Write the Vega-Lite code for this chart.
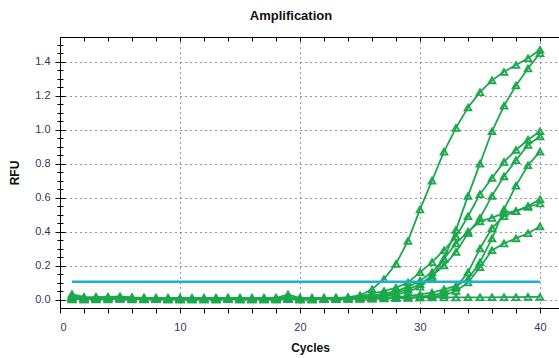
{
  "$schema": "https://vega.github.io/schema/vega-lite/v6.json",
  "width": 500,
  "height": 271,
  "autosize": {"type": "none"},
  "padding": {"left": 60, "top": 37, "right": 0, "bottom": 50},
  "background": "white",
  "config": {
    "view": {"stroke": "black", "strokeWidth": 1},
    "font": "Liberation Sans",
    "axis": {"labelFont": "Liberation Sans", "titleFont": "Liberation Sans"}
  },
  "title": {"text": "Amplification", "fontSize": 13, "fontWeight": "bold", "font": "Liberation Sans", "color": "#111111", "anchor": "middle", "frame": "group", "dx": -19, "offset": 14},
  "datasets": {
    "curves": [
      {"c":1,"A":0.03,"B":0.02,"C":0.01,"D":0.005,"E":0.03,"F":0.01,"G":0.0,"H":0.015,"I":0.005},
      {"c":2,"A":0.01,"B":0.005,"C":0.0,"D":0.01,"E":0.015,"F":0.005,"G":0.01,"H":0.0,"I":0.005},
      {"c":3,"A":0.012,"B":0.008,"C":0.005,"D":0.0,"E":0.01,"F":0.015,"G":0.005,"H":0.005,"I":0.008},
      {"c":4,"A":0.015,"B":0.01,"C":0.008,"D":0.005,"E":0.012,"F":0.01,"G":0.0,"H":0.01,"I":0.008},
      {"c":5,"A":0.018,"B":0.012,"C":0.01,"D":0.005,"E":0.015,"F":0.008,"G":0.005,"H":0.005,"I":0.01},
      {"c":6,"A":0.012,"B":0.006,"C":0.005,"D":0.0,"E":0.01,"F":0.01,"G":0.005,"H":0.008,"I":0.008},
      {"c":7,"A":0.01,"B":0.005,"C":0.005,"D":0.002,"E":0.008,"F":0.005,"G":0.0,"H":0.005,"I":0.01},
      {"c":8,"A":0.008,"B":0.005,"C":0.004,"D":0.002,"E":0.005,"F":0.005,"G":0.002,"H":0.004,"I":0.01},
      {"c":9,"A":0.006,"B":0.004,"C":0.004,"D":0.0,"E":0.006,"F":0.003,"G":0.001,"H":0.005,"I":0.01},
      {"c":10,"A":0.006,"B":0.004,"C":0.003,"D":0.0,"E":0.005,"F":0.004,"G":0.0,"H":0.003,"I":0.009},
      {"c":11,"A":0.005,"B":0.004,"C":0.003,"D":0.0,"E":0.005,"F":0.003,"G":0.0,"H":0.004,"I":0.009},
      {"c":12,"A":0.006,"B":0.005,"C":0.003,"D":0.001,"E":0.006,"F":0.004,"G":0.001,"H":0.004,"I":0.01},
      {"c":13,"A":0.007,"B":0.005,"C":0.004,"D":0.001,"E":0.006,"F":0.005,"G":0.001,"H":0.005,"I":0.01},
      {"c":14,"A":0.009,"B":0.006,"C":0.004,"D":0.002,"E":0.007,"F":0.005,"G":0.002,"H":0.005,"I":0.01},
      {"c":15,"A":0.008,"B":0.005,"C":0.004,"D":0.001,"E":0.006,"F":0.004,"G":0.001,"H":0.004,"I":0.01},
      {"c":16,"A":0.007,"B":0.005,"C":0.003,"D":0.001,"E":0.006,"F":0.004,"G":0.001,"H":0.004,"I":0.01},
      {"c":17,"A":0.006,"B":0.004,"C":0.003,"D":0.0,"E":0.005,"F":0.003,"G":0.0,"H":0.003,"I":0.01},
      {"c":18,"A":0.008,"B":0.005,"C":0.004,"D":0.001,"E":0.006,"F":0.005,"G":0.001,"H":0.004,"I":0.01},
      {"c":19,"A":0.03,"B":0.006,"C":0.004,"D":0.002,"E":0.007,"F":0.005,"G":0.002,"H":0.005,"I":0.01},
      {"c":20,"A":0.008,"B":0.005,"C":0.004,"D":0.001,"E":0.005,"F":0.004,"G":0.001,"H":0.004,"I":0.01},
      {"c":21,"A":0.006,"B":0.004,"C":0.004,"D":0.001,"E":0.005,"F":0.004,"G":0.001,"H":0.004,"I":0.01},
      {"c":22,"A":0.007,"B":0.005,"C":0.006,"D":0.002,"E":0.006,"F":0.005,"G":0.002,"H":0.004,"I":0.01},
      {"c":23,"A":0.009,"B":0.006,"C":0.008,"D":0.003,"E":0.006,"F":0.007,"G":0.002,"H":0.005,"I":0.01},
      {"c":24,"A":0.013,"B":0.007,"C":0.012,"D":0.005,"E":0.007,"F":0.01,"G":0.003,"H":0.005,"I":0.01},
      {"c":25,"A":0.025,"B":0.01,"C":0.02,"D":0.01,"E":0.008,"F":0.015,"G":0.004,"H":0.006,"I":0.011},
      {"c":26,"A":0.06,"B":0.015,"C":0.035,"D":0.015,"E":0.009,"F":0.022,"G":0.005,"H":0.006,"I":0.011},
      {"c":27,"A":0.12,"B":0.02,"C":0.05,"D":0.025,"E":0.01,"F":0.035,"G":0.006,"H":0.007,"I":0.011},
      {"c":28,"A":0.21,"B":0.03,"C":0.07,"D":0.04,"E":0.015,"F":0.05,"G":0.008,"H":0.008,"I":0.011},
      {"c":29,"A":0.345,"B":0.045,"C":0.1,"D":0.06,"E":0.02,"F":0.075,"G":0.01,"H":0.01,"I":0.012},
      {"c":30,"A":0.53,"B":0.075,"C":0.16,"D":0.09,"E":0.03,"F":0.11,"G":0.015,"H":0.012,"I":0.012},
      {"c":31,"A":0.7,"B":0.13,"C":0.22,"D":0.14,"E":0.04,"F":0.16,"G":0.025,"H":0.015,"I":0.012},
      {"c":32,"A":0.87,"B":0.24,"C":0.29,"D":0.2,"E":0.06,"F":0.24,"G":0.04,"H":0.025,"I":0.012},
      {"c":33,"A":1.01,"B":0.41,"C":0.37,"D":0.28,"E":0.08,"F":0.33,"G":0.07,"H":0.05,"I":0.012},
      {"c":34,"A":1.13,"B":0.61,"C":0.49,"D":0.39,"E":0.12,"F":0.4,"G":0.16,"H":0.1,"I":0.013},
      {"c":35,"A":1.22,"B":0.8,"C":0.62,"D":0.48,"E":0.22,"F":0.46,"G":0.3,"H":0.19,"I":0.013},
      {"c":36,"A":1.29,"B":0.99,"C":0.715,"D":0.61,"E":0.36,"F":0.48,"G":0.42,"H":0.29,"I":0.013},
      {"c":37,"A":1.34,"B":1.14,"C":0.81,"D":0.725,"E":0.53,"F":0.51,"G":0.49,"H":0.33,"I":0.014},
      {"c":38,"A":1.38,"B":1.26,"C":0.88,"D":0.82,"E":0.67,"F":0.52,"G":0.52,"H":0.36,"I":0.014},
      {"c":39,"A":1.42,"B":1.36,"C":0.94,"D":0.91,"E":0.79,"F":0.55,"G":0.545,"H":0.39,"I":0.015},
      {"c":40,"A":1.47,"B":1.45,"C":0.99,"D":0.96,"E":0.87,"F":0.59,"G":0.565,"H":0.43,"I":0.015}
    ],
    "threshold": [{"start": 1, "end": 40, "level": 0.105}]
  },
  "layer": [
    {
      "data": {"name": "curves"},
      "transform": [{"fold": ["A","B","C","D","E","F","G","H","I"], "as": ["series","rfu"]}],
      "mark": {"type": "line", "color": "#1ca84c", "strokeWidth": 1.8},
      "encoding": {
        "x": {"field": "c", "type": "quantitative", "scale": {"domain": [0, 41.667], "nice": false, "zero": false},
          "axis": {"orient": "bottom", "title": "Cycles", "titleFontSize": 12, "titleFontWeight": "bold", "titleColor": "#111111", "titlePadding": 10,
            "values": [0,2,4,6,8,10,12,14,16,18,20,22,24,26,28,30,32,34,36,38,40],
            "labelExpr": "datum.value % 10 == 0 ? datum.label : ''",
            "labelFontSize": 11, "labelColor": "#333366", "labelPadding": 8,
            "domainColor": "black", "tickColor": "black", "tickSize": 5,
            "grid": true, "gridColor": "#333333", "gridDash": [1, 4],
            "gridOpacity": {"condition": {"test": "datum.value % 10 == 0 && datum.value > 0", "value": 1}, "value": 0}}},
        "y": {"field": "rfu", "type": "quantitative", "scale": {"domain": [-0.05, 1.545], "nice": false, "zero": false},
          "axis": {"orient": "left", "title": "RFU", "titleFontSize": 12, "titleFontWeight": "bold", "titleColor": "#111111", "titlePadding": 13,
            "values": [0,0.05,0.1,0.15,0.2,0.25,0.3,0.35,0.4,0.45,0.5,0.55,0.6,0.65,0.7,0.75,0.8,0.85,0.9,0.95,1.0,1.05,1.1,1.15,1.2,1.25,1.3,1.35,1.4,1.45,1.5],
            "labelExpr": "abs(datum.value*5 - round(datum.value*5)) < 0.001 ? format(datum.value, '.1f') : ''",
            "labelFontSize": 11, "labelColor": "#333366", "labelPadding": 5,
            "domainColor": "black", "tickColor": "black",
            "tickSize": {"condition": {"test": "abs(datum.value*5 - round(datum.value*5)) < 0.001", "value": 5}, "value": 3},
            "grid": true, "gridColor": "#333333", "gridDash": [1, 4],
            "gridOpacity": {"condition": {"test": "abs(datum.value*5 - round(datum.value*5)) < 0.001", "value": 1}, "value": 0}}},
        "detail": {"field": "series", "type": "nominal"}
      }
    },
    {
      "data": {"name": "curves"},
      "transform": [{"fold": ["A","B","C","D","E","F","G","H","I"], "as": ["series","rfu"]}],
      "mark": {"type": "point", "shape": "triangle-up", "filled": false, "color": "#1ca84c", "strokeWidth": 1.8, "size": 45, "opacity": 1},
      "encoding": {
        "x": {"field": "c", "type": "quantitative", "axis": null},
        "y": {"field": "rfu", "type": "quantitative", "axis": null},
        "detail": {"field": "series", "type": "nominal"}
      }
    },
    {
      "data": {"name": "threshold"},
      "mark": {"type": "rule", "color": "#1cb0d8", "strokeWidth": 2.5},
      "encoding": {
        "x": {"field": "start", "type": "quantitative",
          "axis": {"orient": "top", "title": null, "labels": false, "grid": false, "domainColor": "black", "tickColor": "black", "tickSize": -4,
            "values": [0,2,4,6,8,10,12,14,16,18,20,22,24,26,28,30,32,34,36,38,40]}},
        "x2": {"field": "end"},
        "y": {"field": "level", "type": "quantitative",
          "axis": {"orient": "left", "title": null, "labels": false, "grid": false, "domain": false, "tickColor": "black",
            "tickSize": {"condition": {"test": "abs(datum.value*5 - round(datum.value*5)) < 0.001", "value": -5}, "value": -3},
            "values": [0,0.05,0.1,0.15,0.2,0.25,0.3,0.35,0.4,0.45,0.5,0.55,0.6,0.65,0.7,0.75,0.8,0.85,0.9,0.95,1.0,1.05,1.1,1.15,1.2,1.25,1.3,1.35,1.4,1.45,1.5]}}
      }
    }
  ],
  "resolve": {"axis": {"x": "independent", "y": "independent"}}
}
